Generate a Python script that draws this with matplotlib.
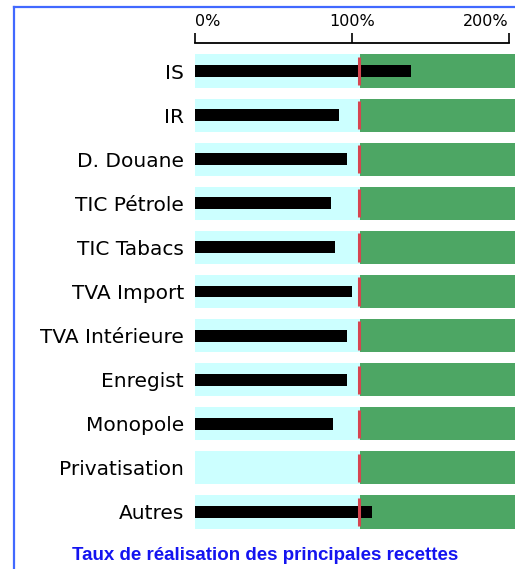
import matplotlib
matplotlib.use("Agg")
import matplotlib.pyplot as plt
from matplotlib.lines import Line2D

# ---------------------------------------------------------------------------
# Data
# ---------------------------------------------------------------------------
categories = ["IS", "IR", "D. Douane", "TIC Pétrole", "TIC Tabacs",
              "TVA Import", "TVA Intérieure", "Enregist", "Monopole",
              "Privatisation", "Autres"]
realisation = [138, 92, 97, 87, 89, 100, 97, 97, 88, 0, 113]
target = [104.6] * len(categories)
range_low = [105.2] * len(categories)
range_high = [204] * len(categories)
tick_values = [0, 100, 200]
tick_labels = ["0%", "100%", "200%"]
title = "Taux de réalisation des principales recettes"

W, H = 515, 569
fig = plt.figure(figsize=(W / 100, H / 100), dpi=100)

# blue frame (left and top)
fig.add_artist(Line2D([14 / W, 14 / W], [0, 1 - 7 / H], color="#4169ff",
                      linewidth=1.6, transform=fig.transFigure))
fig.add_artist(Line2D([14 / W, 1], [1 - 7 / H, 1 - 7 / H], color="#4169ff",
                      linewidth=1.6, transform=fig.transFigure))

ax_left, ax_right = 195 / W, 1.0
ax_top, ax_bot = 1 - 43 / H, 1 - 540 / H
ax = fig.add_axes([ax_left, ax_bot, ax_right - ax_left, ax_top - ax_bot])

n = len(categories)
ys = list(range(n))
ax.barh(ys, range_low, height=0.75, color="#ccffff", zorder=1)
ax.barh(ys, [h - l for h, l in zip(range_high, range_low)], left=range_low,
        height=0.75, color="#4da664", zorder=1)
ax.barh(ys, realisation, height=0.27, color="black", zorder=2)
for y, t in zip(ys, target):
    ax.plot([t, t], [y - 0.32, y + 0.32], color="#d64550", linewidth=2.2,
            solid_capstyle="butt", zorder=3)

ax.set_xlim(0, 204)
ax.set_ylim(n - 1 + 0.635, -0.635)

for s in ["left", "right", "bottom"]:
    ax.spines[s].set_visible(False)
ax.spines["top"].set_bounds(0, 200)
ax.spines["top"].set_linewidth(1.3)

ax.xaxis.tick_top()
ax.set_xticks(tick_values)
ax.set_xticklabels(tick_labels)
ax.tick_params(axis="x", direction="out", length=7, width=1.2, pad=3,
               labelsize=11.5)
xl = ax.get_xticklabels()
xl[0].set_horizontalalignment("left")
xl[-1].set_horizontalalignment("right")

ax.set_yticks(ys)
ax.set_yticklabels(categories)
ax.tick_params(axis="y", length=0, pad=8, labelsize=14.5)

fig.text(265 / W, 1 - 555 / H, title, ha="center", va="center",
         color="#1414f0", fontsize=13.5, fontweight="bold",
         family="Liberation Sans")

fig.savefig("out.png", dpi=100)
